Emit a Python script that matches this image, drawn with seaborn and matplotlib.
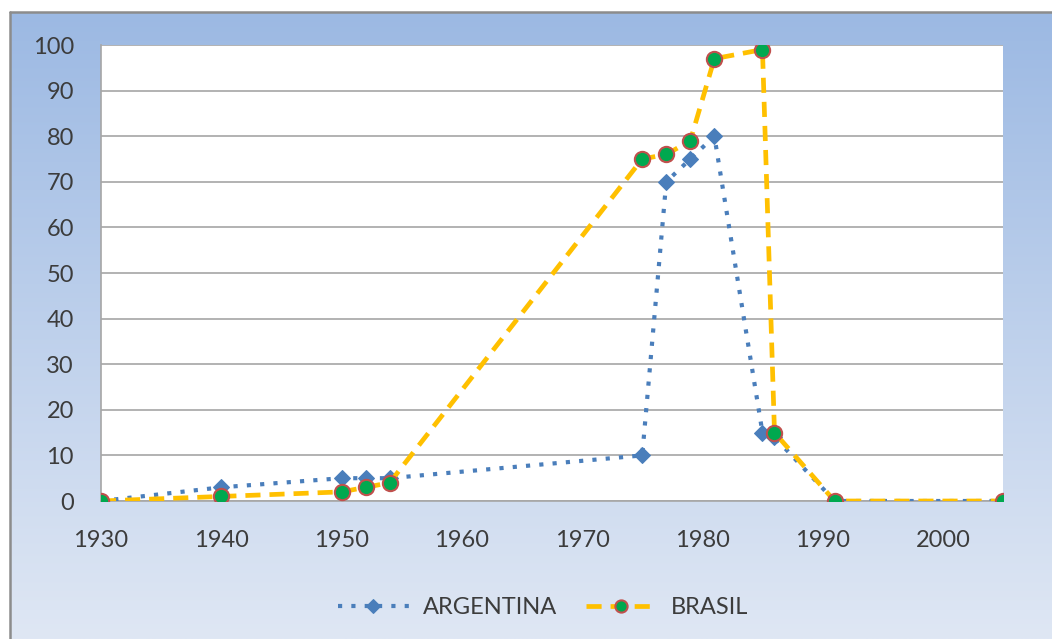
import numpy as np
import pandas as pd
import matplotlib
matplotlib.use('Agg')
import matplotlib.pyplot as plt
import seaborn as sns

# datos
years_arg = [1930, 1940, 1950, 1952, 1954, 1975, 1977, 1979, 1981, 1985, 1986, 1991, 2005]
vals_arg = [0, 3, 5, 5, 5, 10, 70, 75, 80, 15, 14, 0, 0]
years_bra = [1930, 1940, 1950, 1952, 1954, 1975, 1977, 1979, 1981, 1985, 1986, 1991, 2005]
vals_bra = [0, 1, 2, 3, 4, 75, 76, 79, 97, 99, 15, 0, 0]
x_ticks = [1930, 1940, 1950, 1960, 1970, 1980, 1990, 2000]
y_ticks = list(range(0, 101, 10))

df_arg = pd.DataFrame({'year': years_arg, 'value': vals_arg})
df_bra = pd.DataFrame({'year': years_bra, 'value': vals_bra})

sns.set_style('white')
plt.rcParams['font.family'] = ['Lato', 'DejaVu Sans']

fig = plt.figure(figsize=(10.52, 6.39), dpi=100)
fig.patch.set_facecolor('white')

# fondo degradado (marco desde x=10, y=12)
fx0, fy1 = 10 / 1052, 1 - 12 / 639
bg = fig.add_axes([fx0, 0, 1 - fx0, fy1], zorder=-5)
top = np.array([0x9c, 0xb9, 0xe3]) / 255
bot = np.array([0xdf, 0xe7, 0xf4]) / 255
t = np.linspace(0, 1, 256)[:, None]
grad = top * (1 - t) + bot * t
bg.imshow(grad[:, None, :].repeat(2, axis=1), aspect='auto', extent=[0, 1, 0, 1])
bg.set_xlim(0, 1)
bg.set_ylim(0, 1)
bg.axis('off')
fig.add_artist(plt.Line2D([fx0, 1], [fy1, fy1], color='#8c8c8c', linewidth=1.8))
fig.add_artist(plt.Line2D([fx0, fx0], [0, fy1], color='#8c8c8c', linewidth=1.8))

ax = fig.add_axes([101 / 1052, 1 - 501 / 639, 902 / 1052, 456 / 639])
ax.set_facecolor('white')

sns.lineplot(data=df_arg, x='year', y='value', ax=ax, color='#4a7ebb', linestyle=(0, (1, 2.2)),
             linewidth=3, marker='D', markersize=8.5, markeredgecolor='#4a7ebb',
             label='ARGENTINA', zorder=3)
sns.lineplot(data=df_bra, x='year', y='value', ax=ax, color='#ffc000', linestyle=(0, (3.2, 1.9)),
             linewidth=3.4, marker='o', markersize=11, markerfacecolor='#00a84f',
             markeredgecolor='#c0504d', markeredgewidth=1.5, label='BRASIL', zorder=4)

ax.set_xlim(1930, 2005)
ax.set_ylim(0, 100)
ax.set_xticks(x_ticks)
ax.set_yticks(y_ticks)
ax.grid(axis='y', color='#a6a6a6', linewidth=1.2)
ax.set_axisbelow(True)
for s in ['top', 'right']:
    ax.spines[s].set_visible(False)
ax.spines['left'].set_color('#a6a6a6')
ax.spines['bottom'].set_color('#a6a6a6')
ax.spines['left'].set_linewidth(1.2)
ax.spines['bottom'].set_linewidth(1.2)
ax.tick_params(axis='both', which='both', colors='#a6a6a6', labelcolor='#3c3c3c',
               labelsize=17, width=1.2, direction='out')
ax.tick_params(axis='y', length=6.5, pad=13)
ax.tick_params(axis='x', length=8, pad=13)
ax.set_xlabel('')
ax.set_ylabel('')

leg = ax.legend(loc='upper center', bbox_to_anchor=(0.49, -0.165), ncol=2, frameon=False,
                fontsize=17, handlelength=3, columnspacing=1.2, handletextpad=0.6,
                markerscale=0.8)
for txt in leg.get_texts():
    txt.set_color('#3c3c3c')

fig.savefig('out.png', dpi=100)
